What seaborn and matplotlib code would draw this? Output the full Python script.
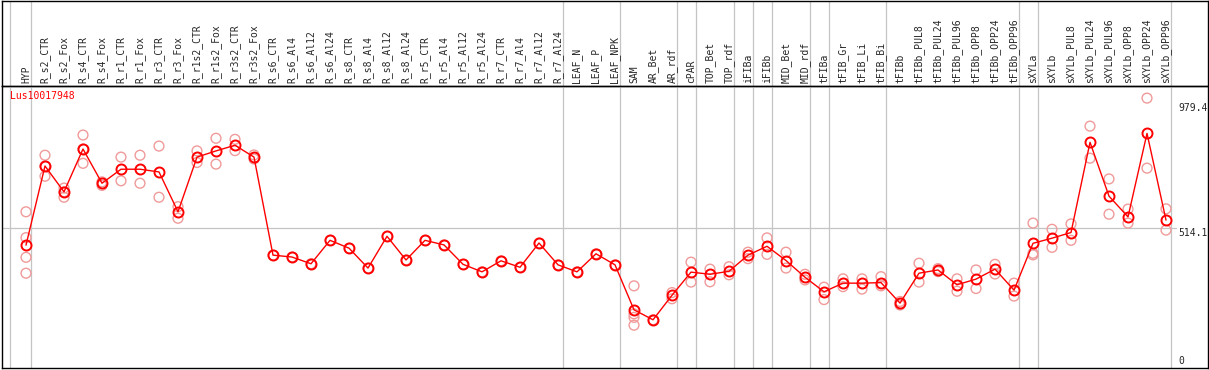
import matplotlib
matplotlib.use("Agg")
import matplotlib.pyplot as plt
import seaborn as sns
import pandas as pd
import numpy as np

sns.set_style("white")
plt.rcParams['font.family'] = ['DejaVu Sans Mono', 'DejaVu Sans']

title = "Lus10017948"

categories = ["HYP", "R_s2_CTR", "R_s2_Fox", "R_s4_CTR", "R_s4_Fox", "R_r1_CTR", "R_r1_Fox",
              "R_r3_CTR", "R_r3_Fox", "R_r1s2_CTR", "R_r1s2_Fox", "R_r3s2_CTR", "R_r3s2_Fox",
              "R_s6_CTR", "R_s6_Al4", "R_s6_Al12", "R_s6_Al24", "R_s8_CTR", "R_s8_Al4",
              "R_s8_Al12", "R_s8_Al24", "R_r5_CTR", "R_r5_Al4", "R_r5_Al12", "R_r5_Al24",
              "R_r7_CTR", "R_r7_Al4", "R_r7_Al12", "R_r7_Al24", "LEAF_N", "LEAF_P", "LEAF_NPK",
              "SAM", "AR_Bet", "AR_rdf", "cPAR", "TOP_Bet", "TOP_rdf", "iFIBa", "iFIBb",
              "MID_Bet", "MID_rdf", "tFIBa", "tFIB_Gr", "tFIB_Li", "tFIB_Bi", "tFIBb",
              "tFIBb_PUL8", "tFIBb_PUL24", "tFIBb_PUL96", "tFIBb_OPP8", "tFIBb_OPP24",
              "tFIBb_OPP96", "sXYLa", "sXYLb", "sXYLb_PUL8", "sXYLb_PUL24", "sXYLb_PUL96",
              "sXYLb_OPP8", "sXYLb_OPP24", "sXYLb_OPP96"]

# group sizes (vertical separators drawn after each group)
group_sizes = [1, 28, 3, 3, 1, 2, 1, 1, 2, 1, 3, 7, 1, 7]

means = [450, 744, 648, 807, 680, 732, 732, 722, 574, 777, 800, 821, 777,
         413, 406, 381, 468, 439, 365, 483, 395, 468, 451, 379, 351, 392, 368, 458, 377,
         351, 418, 377,
         210, 173, 264, 350, 342, 353, 413, 446, 393, 331, 277, 309, 309, 311,
         235, 346, 358, 303, 324, 361, 283,
         457, 476, 497, 832, 632, 555, 865, 543]

replicates = [
    [574, 478, 405, 346], [784, 744, 706], [662, 648, 628], [859, 807, 754], [685, 672],
    [777, 689], [784, 680], [818, 628], [593, 550], [800, 757], [847, 751], [843, 801],
    [785, 770],
    [413], [406], [381], [468], [439], [365], [483], [395], [468], [451], [379], [351],
    [392], [368], [458], [377], [351], [418], [377],
    [299, 195, 182, 153], [173], [274, 251], [387, 313], [361, 314], [370, 340],
    [424, 400], [477, 416], [424, 365], [342, 321], [294, 248], [325, 296], [325, 287],
    [333, 299], [241, 228], [383, 313], [363, 352], [325, 279], [358, 289], [379, 343],
    [309, 261], [532, 420, 414], [509, 442], [529, 468], [892, 773], [696, 565],
    [584, 532], [996, 736], [585, 506]]

ytick_values = [0, 514.1, 979.4]
ytick_labels = ["0", "514.1", "979.4"]

# ---------------------------------------------------------------
pos = np.arange(len(categories))
df_mean = pd.DataFrame({"pos": pos, "value": means})
rep_rows = [(i, v) for i, reps in enumerate(replicates) for v in reps]
df_rep = pd.DataFrame(rep_rows, columns=["pos", "value"])

W, H = 1209, 370
fig = plt.figure(figsize=(W / 100, H / 100), dpi=100)
left = 2 / W
width = 1206 / W
ax = fig.add_axes([left, 2 / H, width, (368 - 86) / H])
ax_top = fig.add_axes([left, (H - 86) / H, width, (86 - 0.6) / H], sharex=ax)
ax.set_zorder(2)
ax_top.set_zorder(1)
ax.patch.set_alpha(0)

xmin, xmax = -1.263, 62.21
ax.set_xlim(xmin, xmax)
ax.set_ylim(-6, 1041)

# group separators
bounds = np.cumsum(group_sizes) - 1 + 0.24
bounds = np.concatenate([[-0.84], bounds])
for b in bounds:
    ax.axvline(b, color="#c4c4c4", lw=0.9, zorder=0)
    ax_top.axvline(b, color="#c4c4c4", lw=0.9, zorder=0)

ax.axhline(514.1, xmin=0, xmax=(1176 - 2) / 1206, color="#c4c4c4", lw=0.9, zorder=0)

sns.scatterplot(data=df_rep, x="pos", y="value", ax=ax, marker="o", s=50,
                facecolors="none", edgecolor="#f09a9a", linewidth=1.0, zorder=3)
sns.lineplot(data=df_mean, x="pos", y="value", ax=ax, color="#ff0000", lw=1.0,
             marker="o", markersize=7.2, markerfacecolor="none",
             markeredgecolor="#ff0000", markeredgewidth=1.4, zorder=4)

ax.set_xlabel("")
ax.set_ylabel("")

ax.xaxis.tick_top()
ax.set_xticks(pos)
ax.set_xticklabels(categories, rotation=90, fontsize=7, va="bottom", ha="center")
ax.tick_params(axis="x", length=0, pad=2.2)

ax.yaxis.tick_right()
ax.set_yticks(ytick_values)
ax.set_yticklabels(ytick_labels, fontsize=7)
ax.tick_params(axis="y", length=0, pad=-21.6)
for lab, v in zip(ax.get_yticklabels(), ytick_values):
    lab.set_va("bottom" if v == 0 else "top")

ax.text(8 / 1206, 1 - 5 / 282, title, transform=ax.transAxes, color="#ff0000",
        fontsize=7, ha="left", va="top")

ax_top.tick_params(left=False, bottom=False, labelleft=False, labelbottom=False)
ax_top.set_yticks([])
for a in (ax, ax_top):
    for s in a.spines.values():
        s.set_color("black")
        s.set_linewidth(1.0)
        s.set_visible(True)

fig.savefig("out.png", dpi=100)
